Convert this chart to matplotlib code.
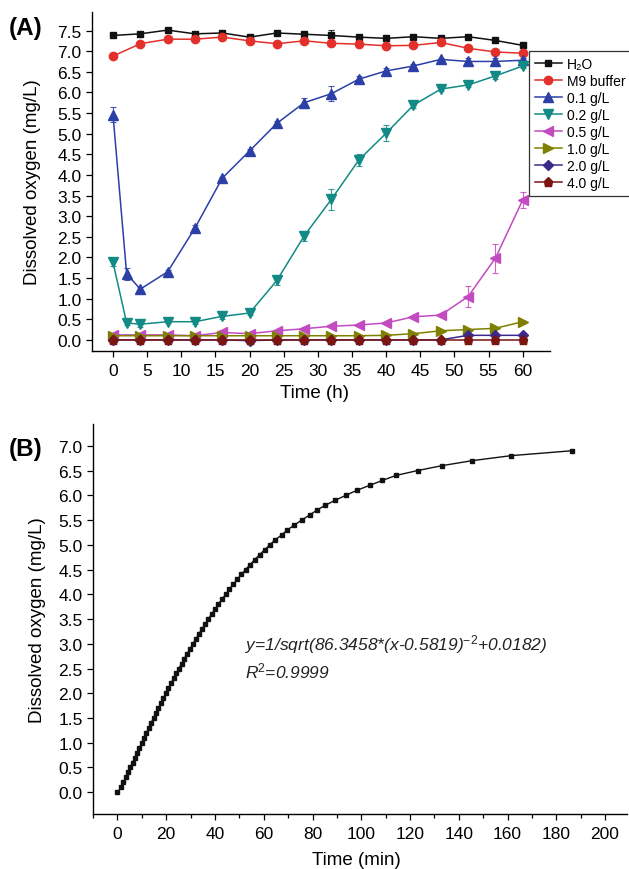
import matplotlib
matplotlib.use("Agg")
import matplotlib.pyplot as plt
from matplotlib.ticker import MultipleLocator, FormatStrFormatter

plt.rcParams['font.family'] = ['Liberation Sans', 'DejaVu Sans']
plt.rcParams['mathtext.fontset'] = 'custom'
plt.rcParams['mathtext.rm'] = 'Liberation Sans'
plt.rcParams['mathtext.it'] = 'Liberation Sans:italic'

# ---------------- Panel A data ----------------
t_4h = [0, 4, 8, 12, 16, 20, 24, 28, 32, 36, 40, 44, 48, 52, 56, 60]
t_2h = [0, 2, 4, 8, 12, 16, 20, 24, 28, 32, 36, 40, 44, 48, 52, 56, 60]

h2o = [7.38, 7.42, 7.51, 7.42, 7.44, 7.34, 7.44, 7.41, 7.38, 7.34, 7.31, 7.35, 7.31, 7.35, 7.26, 7.14]
h2o_err = [0.03, 0.03, 0.03, 0.03, 0.03, 0.03, 0.03, 0.03, 0.14, 0.03, 0.03, 0.03, 0.03, 0.03, 0.03, 0.03]
m9 = [6.88, 7.18, 7.29, 7.29, 7.34, 7.25, 7.18, 7.25, 7.19, 7.17, 7.13, 7.14, 7.21, 7.07, 6.98, 6.95]
m9_err = [0.03] * 16

c01 = [5.46, 1.60, 1.23, 1.65, 2.71, 3.92, 4.58, 5.25, 5.75, 5.97, 6.32, 6.52, 6.64, 6.80, 6.75, 6.75, 6.78]
c01_err = [0.18, 0.15, 0.06, 0.05, 0.07, 0.04, 0.05, 0.06, 0.12, 0.18, 0.08, 0.06, 0.05, 0.03, 0.08, 0.08, 0.06]
c02 = [1.88, 0.41, 0.38, 0.44, 0.44, 0.57, 0.65, 1.44, 2.52, 3.41, 4.36, 5.01, 5.69, 6.08, 6.18, 6.40, 6.64]
c02_err = [0.08, 0.05, 0.06, 0.04, 0.05, 0.06, 0.04, 0.12, 0.12, 0.25, 0.15, 0.20, 0.06, 0.05, 0.06, 0.08, 0.05]
c05 = [0.12, 0.12, 0.12, 0.10, 0.18, 0.15, 0.22, 0.27, 0.33, 0.36, 0.41, 0.56, 0.60, 1.05, 1.98, 3.39]
c05_err = [0.03, 0.03, 0.03, 0.03, 0.05, 0.03, 0.03, 0.03, 0.03, 0.03, 0.03, 0.03, 0.03, 0.25, 0.35, 0.20]
c10 = [0.10, 0.10, 0.10, 0.10, 0.10, 0.10, 0.10, 0.10, 0.10, 0.10, 0.11, 0.15, 0.22, 0.25, 0.28, 0.44]
c20 = [0.0, 0.0, 0.0, 0.0, 0.0, -0.02, 0.0, 0.0, 0.0, 0.0, 0.0, 0.0, 0.0, 0.11, 0.11, 0.11]
c40 = [0.0, 0.0, 0.0, 0.0, 0.0, 0.0, 0.0, 0.0, 0.0, 0.0, 0.0, 0.0, 0.0, 0.0, 0.0, 0.0]

labels_a = ['H₂O', 'M9 buffer', '0.1 g/L', '0.2 g/L', '0.5 g/L', '1.0 g/L', '2.0 g/L', '4.0 g/L']

# ---------------- Panel B data ----------------
time_b = [0.0, 1.5, 2.4, 3.4, 4.3, 5.2, 6.2, 7.1, 8.1, 9.0,
          10.0, 10.9, 11.9, 12.8, 13.8, 14.8, 15.8, 16.8, 17.8, 18.8,
          19.9, 20.9, 22.0, 23.0, 24.1, 25.2, 26.3, 27.4, 28.6, 29.8,
          31.0, 32.2, 33.4, 34.7, 36.0, 37.3, 38.6, 40.0, 41.4, 42.9,
          44.4, 45.9, 47.5, 49.1, 50.8, 52.6, 54.4, 56.3, 58.3, 60.4,
          62.5, 64.7, 67.4, 69.7, 72.6, 75.6, 78.8, 81.8, 85.3, 89.4,
          93.7, 98.2, 103.4, 108.7, 114.2, 123.2, 133.3, 145.6, 161.4, 186.5]
do_b = [0.0, 0.1, 0.2, 0.3, 0.4, 0.5, 0.6, 0.7, 0.8, 0.9,
        1.0, 1.1, 1.2, 1.3, 1.4, 1.5, 1.6, 1.7, 1.8, 1.9,
        2.0, 2.1, 2.2, 2.3, 2.4, 2.5, 2.6, 2.7, 2.8, 2.9,
        3.0, 3.1, 3.2, 3.3, 3.4, 3.5, 3.6, 3.7, 3.8, 3.9,
        4.0, 4.1, 4.2, 4.3, 4.4, 4.5, 4.6, 4.7, 4.8, 4.9,
        5.0, 5.1, 5.2, 5.3, 5.4, 5.5, 5.6, 5.7, 5.8, 5.9,
        6.0, 6.1, 6.2, 6.3, 6.4, 6.5, 6.6, 6.7, 6.8, 6.9]

eq_text = r'y=1/sqrt(86.3458*(x-0.5819)$^{\mathit{-2}}$+0.0182)'
r2_text = r'R$^{\mathit{2}}$=0.9999'

# ---------------- Figure ----------------
fig = plt.figure(figsize=(6.29, 8.70), dpi=100)
axA = fig.add_axes([0.1463, 0.5954, 0.8744 - 0.1463, 0.9851 - 0.5954])
axB = fig.add_axes([0.1480, 0.0632, 0.9968 - 0.1480, 0.5115 - 0.0632])

TICK_FS = 12.5
LABEL_FS = 13.5

series = [
    (t_4h, h2o, h2o_err, 's', '#111111', 5.0),
    (t_4h, m9, m9_err, 'o', '#e3302a', 6.0),
    (t_2h, c01, c01_err, '^', '#2c3fa6', 6.5),
    (t_2h, c02, c02_err, 'v', '#128a86', 6.5),
    (t_4h, c05, c05_err, '<', '#c24bbf', 6.5),
    (t_4h, c10, None, '>', '#7f7f00', 6.5),
    (t_4h, c20, None, 'D', '#3a2a8e', 5.0),
    (t_4h, c40, None, 'p', '#7a1512', 6.5),
]
for (t, y, e, mk, col, ms), lab in zip(series, labels_a):
    if e is not None:
        axA.errorbar(t, y, yerr=e, fmt='none', ecolor=col, elinewidth=0.8,
                     capsize=2.2, capthick=0.8, alpha=0.85)
    axA.plot(t, y, marker=mk, color=col, ms=ms, lw=1.1, label=lab)

axA.set_xlim(-3.07, 64.0)
axA.set_ylim(-0.27, 7.95)
axA.xaxis.set_major_locator(MultipleLocator(5))
axA.yaxis.set_major_locator(MultipleLocator(0.5))
axA.yaxis.set_major_formatter(FormatStrFormatter('%.1f'))
axA.set_xlabel('Time (h)', fontsize=LABEL_FS)
axA.set_ylabel('Dissolved oxygen (mg/L)', fontsize=LABEL_FS)
axA.xaxis.set_label_coords(0.485, -0.097)
axA.yaxis.set_label_coords(-0.112, 0.5)

leg = axA.legend(loc='upper left', bbox_to_anchor=(529 / 629, 1 - 52 / 870),
                 bbox_transform=fig.transFigure, fontsize=10, frameon=True,
                 fancybox=False, edgecolor='black', handlelength=2.0,
                 handletextpad=0.35, labelspacing=0.22, borderpad=0.4,
                 borderaxespad=0)
leg.get_frame().set_linewidth(0.9)

axB.plot(time_b, do_b, marker='s', color='#111111', ms=3.4, lw=1.0)
axB.set_xlim(-10, 209)
axB.set_ylim(-0.44, 7.44)
axB.xaxis.set_major_locator(MultipleLocator(20))
axB.xaxis.set_minor_locator(MultipleLocator(10))
axB.yaxis.set_major_locator(MultipleLocator(0.5))
axB.yaxis.set_major_formatter(FormatStrFormatter('%.1f'))
axB.set_xlabel('Time (min)', fontsize=LABEL_FS)
axB.set_ylabel('Dissolved oxygen (mg/L)', fontsize=LABEL_FS)
axB.xaxis.set_label_coords(0.4925, -0.095)
axB.yaxis.set_label_coords(-0.088, 0.5)
axB.text(52.4, 3.0, eq_text, fontsize=12.5, style='italic', va='center', ha='left',
         color='#222222')
axB.text(52.4, 2.46, r2_text, fontsize=12.5, style='italic', va='center', ha='left',
         color='#222222')

for ax in (axA, axB):
    for s in ('top', 'right'):
        ax.spines[s].set_visible(False)
    for s in ('left', 'bottom'):
        ax.spines[s].set_linewidth(1.0)
    ax.tick_params(axis='both', which='major', direction='out', length=4.5,
                   width=0.9, labelsize=TICK_FS, pad=3)
    ax.tick_params(axis='x', which='major', pad=4)
    ax.tick_params(axis='both', which='minor', direction='out', length=3, width=0.9)

fig.text(9 / 629, 1 - 28 / 870, '(A)', fontsize=17.5, fontweight='bold', va='center', ha='left')
fig.text(9 / 629, 1 - 450 / 870, '(B)', fontsize=17.5, fontweight='bold', va='center', ha='left')

fig.savefig('out.png', dpi=100)
